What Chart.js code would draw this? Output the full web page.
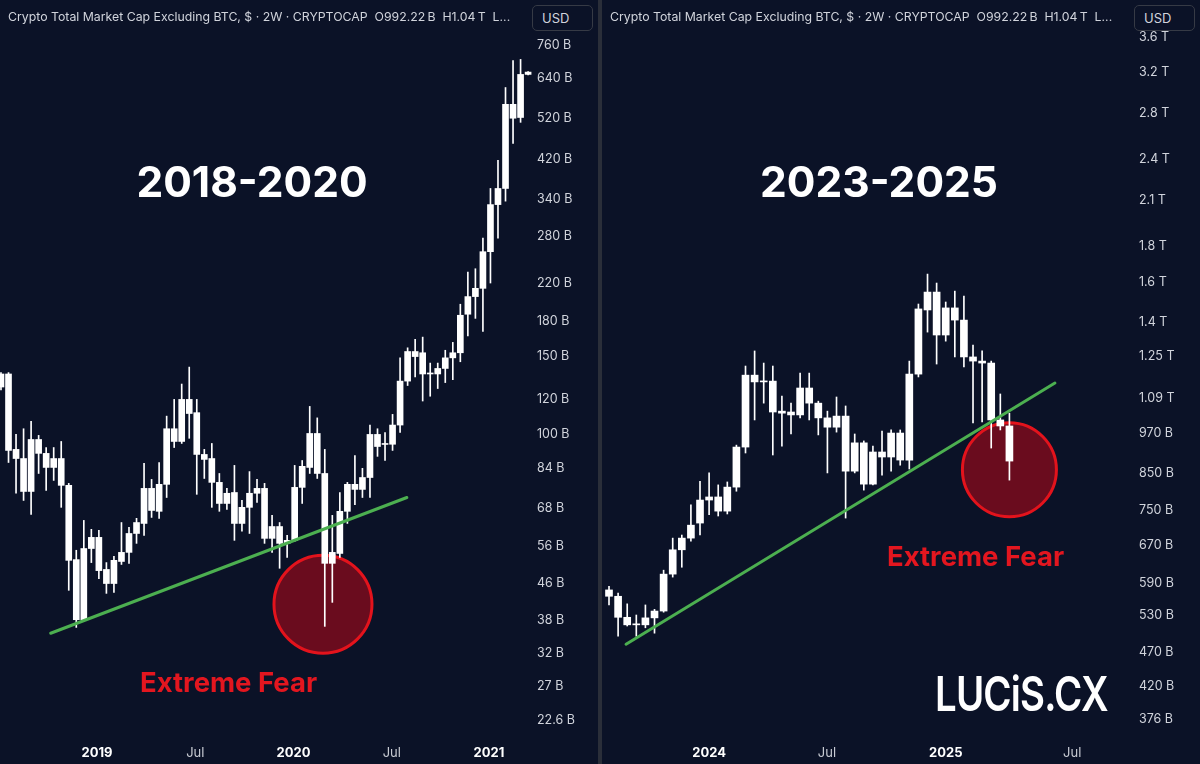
<!DOCTYPE html>
<html>
<head>
<meta charset="utf-8">
<script src="https://cdn.jsdelivr.net/npm/chart.js@4.4.1/dist/chart.umd.min.js"></script>
<style>
  html, body { margin: 0; padding: 0; background: #0b1227; }
  body { width: 1200px; height: 764px; position: relative; overflow: hidden; font-family: Inter, "Noto Sans", sans-serif; }
  .panel { position: absolute; top: 0; width: 598px; height: 764px; background: #0b1227; overflow: hidden; }
  #leftPanel { left: 0; }
  #rightPanel { left: 602px; }
  .sep { position: absolute; left: 598px; top: 0; width: 4px; height: 764px; background: #2a2e39; }
  canvas { position: absolute; left: 0; top: 0; }
  .head { position: absolute; left: 8px; top: 11px; color: #d1d4dc; font-size: 12.3px; line-height: 1; white-space: nowrap; }
  .usd { position: absolute; left: 532px; top: 5px; width: 61px; height: 26px; box-sizing: border-box; border: 1px solid #363a45; border-radius: 5px; background: #0b1227; color: #d1d4dc; font-size: 13px; line-height: 24px; padding-left: 9px; }
  .big { position: absolute; top: 161px; color: #fff; font-weight: 700; font-size: 42.5px; line-height: 1; white-space: nowrap; transform: translateX(-50%); }
  .fear { position: absolute; color: #e3161f; font-weight: 700; font-size: 27.5px; line-height: 1; white-space: nowrap; }
  .logo { position: absolute; left: 333px; top: 670px; color: #fff; font-weight: 600; font-size: 48px; line-height: 1; white-space: nowrap; transform-origin: left top; transform: scaleX(0.8); letter-spacing: -1px; }
</style>
</head>
<body>

<div class="panel" id="leftPanel">
  <canvas id="leftChart" width="598" height="764"></canvas>
  <div class="head">Crypto Total Market Cap Excluding BTC, $ · 2W · CRYPTOCAP&nbsp; O992.22&#8201;B&nbsp; H1.04&#8201;T&nbsp; L...</div>
  <div class="usd">USD</div>
  <div class="big" style="left:252px;">2018-2020</div>
  <div class="fear" style="left:140px; top:669px;">Extreme Fear</div>
</div>

<div class="sep"></div>

<div class="panel" id="rightPanel">
  <canvas id="rightChart" width="598" height="764"></canvas>
  <div class="head">Crypto Total Market Cap Excluding BTC, $ · 2W · CRYPTOCAP&nbsp; O992.22&#8201;B&nbsp; H1.04&#8201;T&nbsp; L...</div>
  <div class="usd">USD</div>
  <div class="big" style="left:277px;">2023-2025</div>
  <div class="fear" style="left:285px; top:543px;">Extreme Fear</div>
  <div class="logo">LUCiS.CX</div>
</div>

<script>
// 2018-2020, 2W candles, values in billions
const leftOpen  = [128, 137, 92.5, 88.2, 74.3, 97.4, 90.6, 84.2, 88.2, 76.7, 52.1, 38.1, 55.2, 58.5, 49.5, 46, 51.6, 54.1, 59.7, 62.9,
                   75.5, 67, 77.1, 103, 96.4, 120, 112, 90.1, 88.2, 77.9, 69.8, 73.9, 62.9, 68.4, 73.6, 75.5, 58.2, 61.9, 56.7, 57.6,
                   75.9, 84.2, 100.5, 81.6, 51.1, 53.8, 67, 77.1, 75.1, 79.9, 100, 94.9, 95, 105, 132, 154, 153, 137, 137, 141,
                   149, 153, 187, 205, 214, 259, 331, 360, 558, 521, 652];
const leftHigh  = [138, 138, 100, 103, 107, 99.5, 93.4, 93.4, 96.4, 77.5, 54.7, 63.9, 61, 60.7, 51.3, 53, 63.2, 61.6, 64.6, 86,
                   79.1, 86.4, 110, 120, 130, 142, 120, 92.5, 95.4, 81.6, 75.5, 85.1, 70.9, 82.4, 79.1, 77.5, 65.6, 63.2, 59.1, 85.1,
                   87.3, 115.7, 109, 92.5, 65.6, 73.9, 77.9, 89.6, 83.8, 105, 103, 101, 111, 149, 157, 164, 166, 145, 145, 155,
                   161.5, 197, 233, 237, 278, 360, 417, 609, 701, 705, 662];
const leftLow   = [126, 86.4, 73.6, 70.9, 65.9, 81.6, 74.7, 78.7, 68.4, 44.4, 36.6, 37.8, 51.3, 47.2, 43.7, 43.9, 50.8, 51.1, 56.7, 59.1,
                   64.9, 64.6, 72, 93.4, 95.4, 98, 73.2, 79.5, 68.4, 67, 67.7, 57.6, 60.4, 59.7, 70.2, 56.7, 54.1, 49.8, 52.7, 57.3,
                   69.8, 81.6, 79.5, 36.8, 41.7, 52.7, 62.9, 69.4, 72, 72, 89.2, 87.3, 92, 101, 129, 135, 119, 122, 127, 131,
                   133, 146, 167, 183, 171, 220, 278, 337, 455, 508, 650];
const leftClose = [137, 92, 88.2, 74.3, 97.4, 90.6, 84.2, 88.2, 76.7, 51.9, 38.1, 55.2, 58.5, 49.2, 46, 51.9, 54.1, 59.7, 63.2, 75.5,
                   67.3, 77.1, 103, 96.4, 120, 111.5, 90.1, 87.8, 77.9, 69.8, 73.6, 62.9, 68.4, 73.6, 75.5, 58.2, 61.9, 56.7, 57.6, 75.9,
                   84.7, 100.5, 81.6, 51.1, 54.1, 67, 77.1, 75.1, 79.9, 100, 93.9, 95.4, 105, 132, 154, 150, 137, 137.5, 141, 149,
                   153, 186, 205, 214, 259, 331, 360, 558, 519, 652, 660];

// 2023-2025, 2W candles, values in billions
const rightOpen  = [577, 565, 527, 514, 514, 526, 538, 608, 659, 685, 720, 777, 785, 749, 811, 926, 1175, 1149, 1152, 1043,
                    1040, 1030, 1126, 1071, 1020, 989, 1026, 855, 939, 819, 911, 896, 970, 887, 1179, 1458, 1547, 1342, 1468, 1410,
                    1248, 1231, 1223, 1013, 993];
const rightHigh  = [584, 571, 551, 531, 549, 541, 616, 685, 692, 765, 827, 850, 817, 825, 932, 1211, 1273, 1223, 1211, 1096,
                    1071, 1183, 1183, 1078, 1043, 1093, 1061, 967, 945, 929, 976, 980, 980, 1231, 1487, 1642, 1594, 1497, 1552, 1527,
                    1298, 1273, 1231, 1104, 1036];
const rightLow   = [549, 495, 512, 495, 509, 500, 536, 602, 622, 678, 692, 740, 737, 742, 800, 908, 1013, 1071, 902, 929,
                    967, 1020, 1013, 964, 850, 973, 732, 850, 803, 817, 844, 855, 872, 861, 1168, 1355, 1219, 1315, 1248, 1207,
                    1003, 1006, 923, 980, 830];
const rightClose = [565, 527, 514, 515, 526, 538, 608, 659, 685, 715, 777, 785, 749, 811, 926, 1175, 1149, 1152, 1040, 1036,
                    1030, 1126, 1071, 1020, 989, 1026, 855, 939, 819, 911, 896, 970, 887, 1179, 1463, 1547, 1342, 1468, 1410, 1248,
                    1231, 1223, 1013, 993, 884];

// axis ticks
const leftYTicks  = [760, 640, 520, 420, 340, 280, 220, 180, 150, 120, 100, 84, 68, 56, 46, 38, 32, 27, 22.6];
const leftYLabels = ['760 B', '640 B', '520 B', '420 B', '340 B', '280 B', '220 B', '180 B', '150 B', '120 B', '100 B',
                     '84 B', '68 B', '56 B', '46 B', '38 B', '32 B', '27 B', '22.6 B'];
const rightYTicks  = [3600, 3200, 2800, 2400, 2100, 1800, 1600, 1400, 1250, 1090, 970, 850, 750, 670, 590, 530, 470, 420, 376];
const rightYLabels = ['3.6 T', '3.2 T', '2.8 T', '2.4 T', '2.1 T', '1.8 T', '1.6 T', '1.4 T', '1.25 T', '1.09 T', '970 B',
                      '850 B', '750 B', '670 B', '590 B', '530 B', '470 B', '420 B', '376 B'];
const leftXTicks  = [12.75, 25.8, 38.85, 51.9, 64.8];
const leftXLabels = ['2019', 'Jul', '2020', 'Jul', '2021'];
const rightXTicks  = [11.0, 23.95, 37.0, 50.9];
const rightXLabels = ['2024', 'Jul', '2025', 'Jul'];

// trend lines and fear circles, in candle index / value
const leftTrend  = [{ x: 6.6, y: 35.5 }, { x: 53.9, y: 72.0 }];
const rightTrend = [{ x: 1.87, y: 482 }, { x: 49.0, y: 1145 }];
const leftFear  = { x: 42.76, y: 41.3 };
const rightFear = { x: 44.0, y: 859 };

const fearCircle = {
    id: 'fearCircle',
    beforeDatasetsDraw(chart, args, opts) {
        const { ctx, scales } = chart;
        const px = scales.x.getPixelForValue(opts.at.x);
        const py = scales.y.getPixelForValue(opts.at.y);
        ctx.save();
        ctx.beginPath();
        ctx.arc(px, py, opts.radius, 0, Math.PI * 2);
        ctx.fillStyle = '#6a0c1e';
        ctx.fill();
        ctx.lineWidth = 3;
        ctx.strokeStyle = '#e3131c';
        ctx.stroke();
        ctx.restore();
    }
};

function candleChart(id, o) {
    const idx = o.open.map((_, i) => i);
    const wicks = idx.map(i => ({ x: i, y: [o.low[i], o.high[i]] }));
    const bodies = idx.map(i => ({ x: i, y: [Math.min(o.open[i], o.close[i]), Math.max(o.open[i], o.close[i])] }));

    return new Chart(document.getElementById(id), {
        type: 'bar',
        data: {
            datasets: [
                {
                    type: 'line',
                    data: o.trend,
                    borderColor: '#4caf50',
                    borderWidth: 3,
                    borderCapStyle: 'round',
                    pointRadius: 0,
                    order: 0,
                },
                {
                    data: bodies,
                    backgroundColor: '#ffffff',
                    barThickness: o.bodyWidth,
                    minBarLength: 1,
                    grouped: false,
                    order: 1,
                },
                {
                    data: wicks,
                    backgroundColor: '#ffffff',
                    barThickness: 1,
                    grouped: false,
                    order: 2,
                },
            ],
        },
        options: {
            responsive: false,
            animation: false,
            devicePixelRatio: 1,
            layout: { padding: { top: 35, left: 0, right: 0, bottom: 0 } },
            plugins: {
                legend: { display: false },
                tooltip: { enabled: false },
                fearCircle: { at: o.fear, radius: o.radius },
            },
            scales: {
                x: {
                    type: 'linear',
                    min: o.xMin,
                    max: o.xMax,
                    bounds: 'data',
                    offset: false,
                    grid: { display: false, drawTicks: false },
                    border: { display: false },
                    afterBuildTicks: s => { s.ticks = o.xTicks.map(v => ({ value: v })); },
                    afterFit: s => { s.height = 29; },
                    ticks: {
                        autoSkip: false,
                        maxRotation: 0,
                        padding: 10,
                        callback: (v, i) => o.xLabels[i],
                        color: ctx => (o.xLabels[ctx.index] === 'Jul' ? '#c8cbd3' : '#ffffff'),
                        font: ctx => ({ family: 'Inter', size: 13, weight: o.xLabels[ctx.index] === 'Jul' ? '400' : '700' }),
                    },
                },
                y: {
                    type: 'logarithmic',
                    position: 'right',
                    min: o.yMin,
                    max: o.yMax,
                    bounds: 'data',
                    grid: { display: false, drawTicks: false },
                    border: { display: false },
                    afterBuildTicks: s => { s.ticks = o.yTicks.map(v => ({ value: v })); },
                    afterFit: s => { s.width = 65; },
                    ticks: {
                        autoSkip: false,
                        padding: 4,
                        callback: (v, i) => o.yLabels[i],
                        color: '#d1d4dc',
                        font: { family: 'Inter', size: 12.5 },
                    },
                },
            },
        },
        plugins: [fearCircle],
    });
}

candleChart('leftChart', {
    open: leftOpen, high: leftHigh, low: leftLow, close: leftClose,
    trend: leftTrend, fear: leftFear, radius: 49,
    xTicks: leftXTicks, xLabels: leftXLabels, yTicks: leftYTicks, yLabels: leftYLabels,
    xMin: -0.13, xMax: 70.65, yMin: 20.9, yMax: 800.6, bodyWidth: 6,
});

candleChart('rightChart', {
    open: rightOpen, high: rightHigh, low: rightLow, close: rightClose,
    trend: rightTrend, fear: rightFear, radius: 47,
    xTicks: rightXTicks, xLabels: rightXLabels, yTicks: rightYTicks, yLabels: rightYLabels,
    xMin: -0.77, xMax: 57.8, yMin: 356.9, yMax: 3624, bodyWidth: 7,
});
</script>
</body>
</html>
